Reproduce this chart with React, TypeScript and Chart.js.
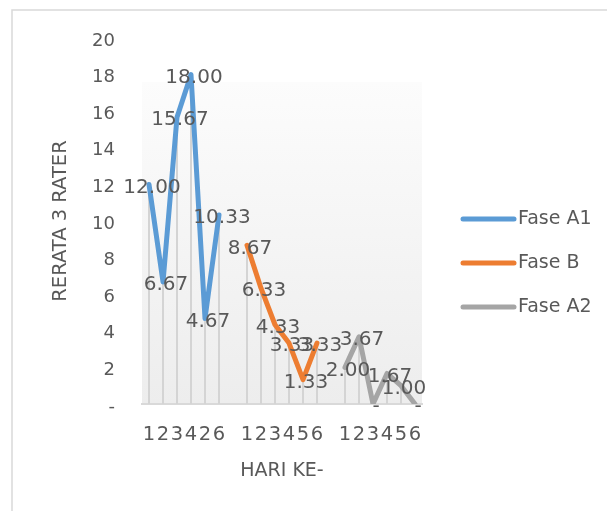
import React, { useEffect, useRef } from "react";
import { Chart, registerables } from "chart.js";

Chart.register(...registerables);

// ---- data ----
const xLabels = ["1", "2", "3", "4", "2", "6", "", "1", "2", "3", "4", "5", "6", "", "1", "2", "3", "4", "5", "6"];
const faseA1 = [12.0, 6.67, 15.67, 18.0, 4.67, 10.33];
const faseB = [8.67, 6.33, 4.33, 3.33, 1.33, 3.33];
const faseA2 = [2.0, 3.67, 0, 1.67, 1.0, 0];
const seriesNames = ["Fase A1", "Fase B", "Fase A2"];
const seriesStart = [0, 7, 14];
const seriesColors = ["#5B9BD5", "#ED7D31", "#A5A5A5"];
const yMin = 0;
const yMax = 20;
const yStep = 2;
const xTitle = "HARI KE-";
const yTitle = "RERATA 3 RATER";

const FONT = "'DejaVu Sans', sans-serif";
const TEXT = "#595959";

function placeSeries(values: number[], start: number): (number | null)[] {
  const arr: (number | null)[] = xLabels.map(() => null);
  values.forEach((v, i) => {
    arr[start + i] = v;
  });
  return arr;
}

const fmt = (v: number) => (v === 0 ? "-" : v.toFixed(2));

const backgroundPlugin = {
  id: "bgPlugin",
  beforeDraw(chart: any) {
    const { ctx, chartArea, width, height } = chart;
    ctx.save();
    ctx.fillStyle = "#ffffff";
    ctx.fillRect(0, 0, width, height);
    // outer chart border
    ctx.strokeStyle = "#D9D9D9";
    ctx.lineWidth = 1.5;
    ctx.strokeRect(12, 10, width + 20, height + 20);
    // plot area gradient
    const top = chartArea.top + (chartArea.bottom - chartArea.top) * 0.12;
    const g = ctx.createLinearGradient(0, top, 0, chartArea.bottom);
    g.addColorStop(0, "#FCFCFC");
    g.addColorStop(1, "#EDEDED");
    ctx.fillStyle = g;
    ctx.fillRect(chartArea.left, top, chartArea.right - chartArea.left, chartArea.bottom - top);
    ctx.restore();
  },
};

const dropLinePlugin = {
  id: "dropLines",
  beforeDatasetsDraw(chart: any) {
    const { ctx, chartArea } = chart;
    ctx.save();
    ctx.strokeStyle = "#D4D4D4";
    ctx.lineWidth = 2;
    chart.data.datasets.forEach((ds: any, di: number) => {
      const meta = chart.getDatasetMeta(di);
      meta.data.forEach((pt: any, i: number) => {
        const v = ds.data[i];
        if (v === null || v === undefined || v === 0) return;
        ctx.beginPath();
        ctx.moveTo(pt.x, pt.y);
        ctx.lineTo(pt.x, chartArea.bottom);
        ctx.stroke();
      });
    });
    ctx.restore();
  },
};

const dataLabelPlugin = {
  id: "dataLabels",
  afterDatasetsDraw(chart: any) {
    const { ctx } = chart;
    ctx.save();
    ctx.font = `20px ${FONT}`;
    ctx.fillStyle = TEXT;
    ctx.textAlign = "center";
    ctx.textBaseline = "middle";
    chart.data.datasets.forEach((ds: any, di: number) => {
      const meta = chart.getDatasetMeta(di);
      meta.data.forEach((pt: any, i: number) => {
        const v = ds.data[i];
        if (v === null || v === undefined) return;
        ctx.fillText(fmt(v), pt.x + 3, pt.y + 3);
      });
    });
    ctx.restore();
  },
};

const legendPlugin = {
  id: "customLegend",
  afterDraw(chart: any) {
    const { ctx } = chart;
    ctx.save();
    ctx.font = `19px ${FONT}`;
    ctx.textAlign = "left";
    ctx.textBaseline = "middle";
    seriesNames.forEach((name, i) => {
      const y = 219 + i * 44;
      ctx.strokeStyle = seriesColors[i];
      ctx.lineWidth = 5;
      ctx.lineCap = "round";
      ctx.beginPath();
      ctx.moveTo(463, y);
      ctx.lineTo(514, y);
      ctx.stroke();
      ctx.fillStyle = TEXT;
      ctx.fillText(name, 518, y);
    });
    ctx.restore();
  },
};

export default function App() {
  const canvasRef = useRef<HTMLCanvasElement | null>(null);

  useEffect(() => {
    if (!canvasRef.current) return;
    const seriesValues = [faseA1, faseB, faseA2];
    const chart = new Chart(canvasRef.current, {
      type: "line",
      data: {
        labels: xLabels,
        datasets: seriesNames.map((name, i) => ({
          label: name,
          data: placeSeries(seriesValues[i], seriesStart[i]),
          borderColor: seriesColors[i],
          backgroundColor: seriesColors[i],
          borderWidth: 5,
          borderJoinStyle: "round" as const,
          borderCapStyle: "round" as const,
          pointRadius: 0,
          tension: 0,
          spanGaps: false,
        })),
      },
      options: {
        animation: false,
        responsive: false,
        maintainAspectRatio: false,
        layout: { padding: { top: 38, right: 185, bottom: 0, left: 0 } },
        plugins: {
          legend: { display: false },
          tooltip: { enabled: false },
        },
        scales: {
          x: {
            type: "category",
            offset: true,
            grid: { display: false, drawTicks: false },
            border: { display: true, color: "#D9D9D9", width: 2 },
            ticks: {
              autoSkip: false,
              maxRotation: 0,
              minRotation: 0,
              padding: 19,
              color: TEXT,
              font: { family: FONT, size: 19.5 },
            },
            title: {
              display: true,
              text: xTitle,
              color: TEXT,
              font: { family: FONT, size: 19 },
              padding: { top: 0, bottom: 29 },
            },
            afterFit: (s: any) => {
              s.height = 107;
            },
          },
          y: {
            min: yMin,
            max: yMax,
            grid: { display: false, drawTicks: false },
            border: { display: false },
            ticks: {
              stepSize: yStep,
              padding: 27,
              labelOffset: 3,
              color: TEXT,
              font: { family: FONT, size: 18 },
              callback: (v: any) => (Number(v) === 0 ? "-" : String(v)),
            },
            title: {
              display: true,
              text: yTitle,
              color: TEXT,
              font: { family: FONT, size: 19.5 },
              padding: { top: 49, bottom: 0 },
            },
            afterFit: (s: any) => {
              s.width = 142;
            },
          },
        },
      },
      plugins: [backgroundPlugin, dropLinePlugin, dataLabelPlugin, legendPlugin],
    });
    return () => chart.destroy();
  }, []);

  return (
    <div style={{ position: "fixed", left: 0, top: 0, width: 607, height: 511, background: "#fff" }}>
      <canvas ref={canvasRef} width={607} height={511} style={{ width: 607, height: 511, display: "block" }} />
    </div>
  );
}
